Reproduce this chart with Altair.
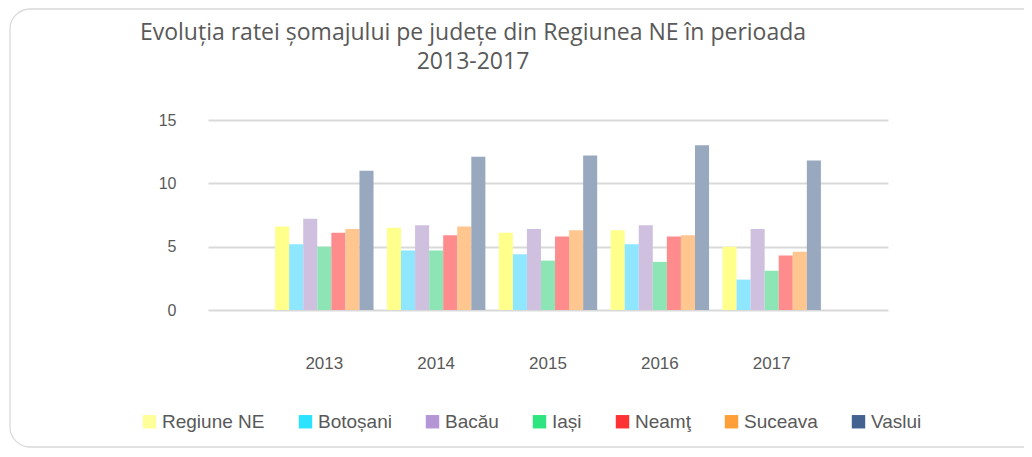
import altair as alt
import pandas as pd

years = ["2013", "2014", "2015", "2016", "2017"]
series = ["Regiune NE", "Botoșani", "Bacău", "Iași", "Neamţ", "Suceava", "Vaslui"]
regiune_ne = [6.6, 6.5, 6.1, 6.3, 5.0]
botosani = [5.2, 4.7, 4.4, 5.2, 2.4]
bacau = [7.2, 6.7, 6.4, 6.7, 6.4]
iasi = [5.0, 4.7, 3.9, 3.8, 3.1]
neamt = [6.1, 5.9, 5.8, 5.8, 4.3]
suceava = [6.4, 6.6, 6.3, 5.9, 4.6]
vaslui = [11.0, 12.1, 12.2, 13.0, 11.8]
y_ticks = [0, 5, 10, 15]
title_lines = ["Evoluția ratei șomajului pe județe din Regiunea NE în perioada", "2013-2017"]

bar_colors = ["#FFFF8C", "#8FE6FF", "#D0C0E0", "#8DE5B5", "#FF8C8C", "#FFC690", "#98A8BE"]
legend_colors = ["#FFFF99", "#2BE3FF", "#B495D6", "#2EE57F", "#FF3333", "#FF9F3A", "#44628F"]

all_values = [regiune_ne, botosani, bacau, iasi, neamt, suceava, vaslui]
rows = []
for s, vals in zip(series, all_values):
    for y, v in zip(years, vals):
        rows.append({"An": y, "Judet": s, "Rata": v})
df = pd.DataFrame(rows)

FONT = "Liberation Sans"
TFONT = "Open Sans"
GREY = "#595959"

x_enc = alt.X("An:N", sort=years,
              scale=alt.Scale(paddingInner=0.12, paddingOuter=0.6),
              axis=alt.Axis(title=None, labelAngle=0, domain=False, ticks=False,
                            labelPadding=45, labelFontSize=17, labelColor=GREY,
                            labelFont=FONT, grid=False))
y_enc = alt.Y("Rata:Q", scale=alt.Scale(domain=[0, 15], nice=False),
              axis=alt.Axis(title=None, values=y_ticks, domain=False, ticks=False,
                            labelPadding=32, labelFontSize=16, labelColor=GREY,
                            labelFont=FONT, gridColor="#D9D9D9", gridWidth=1.8))

bars = alt.Chart(df).mark_bar(opacity=1).encode(
    x=x_enc,
    xOffset=alt.XOffset("Judet:N", sort=series),
    y=y_enc,
    color=alt.Color("Judet:N", sort=series,
                    scale=alt.Scale(domain=series, range=bar_colors), legend=None),
)

legend_layer = alt.Chart(df).mark_square(opacity=0, size=1).encode(
    x=alt.X("An:N", sort=years),
    y=alt.Y("Rata:Q"),
    fill=alt.Fill("Judet:N", sort=series,
                  scale=alt.Scale(domain=series, range=legend_colors),
                  legend=alt.Legend(title=None, orient="none", direction="horizontal",
                                    columns=7, legendX=-68, legendY=292,
                                    symbolType="square", symbolSize=180,
                                    symbolOpacity=1, symbolStrokeWidth=0,
                                    labelFontSize=19, labelColor=GREY, labelFont=FONT,
                                    columnPadding=31, labelOffset=3)),
)

frame = alt.Chart(alt.Data(values=[{"a": 1}])).mark_rect(
    filled=False, stroke="#D9D9D9", strokeWidth=1.3, cornerRadius=20, clip=False
).encode(x=alt.value(-198), x2=alt.value(840), y=alt.value(-111), y2=alt.value(327))

title1 = alt.Chart(alt.Data(values=[{"t": title_lines[0]}])).mark_text(
    font=TFONT, fontSize=23, color=GREY, align="center", baseline="middle"
).encode(text="t:N", x=alt.value(265), y=alt.value(-87))
title2 = alt.Chart(alt.Data(values=[{"t": title_lines[1]}])).mark_text(
    font=TFONT, fontSize=23, color=GREY, align="center", baseline="middle"
).encode(text="t:N", x=alt.value(265), y=alt.value(-58))

chart = alt.layer(frame, bars, legend_layer, title1, title2).resolve_scale(
    color="independent"
).properties(
    width=680, height=190,
    background="white",
    autosize=alt.AutoSizeParams(type="none"),
    padding={"left": 200, "top": 112, "right": 136, "bottom": 139},
).configure_view(strokeWidth=0, stroke="transparent")

chart.save("out.html", embed_options={"renderer": "svg", "actions": False})
